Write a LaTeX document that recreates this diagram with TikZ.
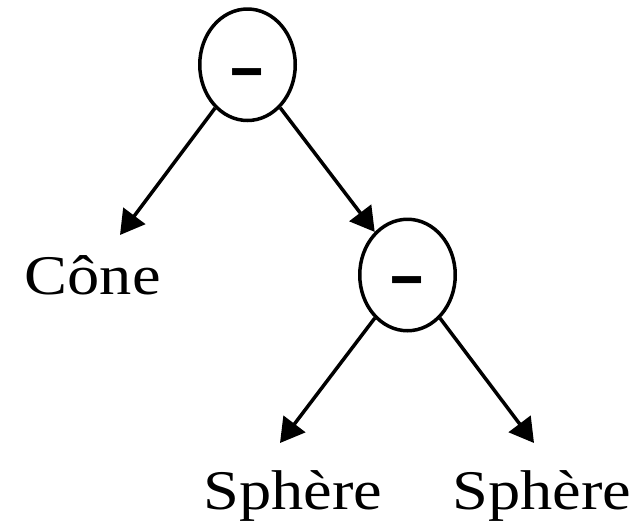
\documentclass[tikz,border=0pt]{standalone}
\usepackage{fontspec}
\setmainfont{Liberation Serif}
\newfontfamily\lblfont[FakeStretch=1.15]{Liberation Serif}
\newfontfamily\opfont[FakeStretch=1.15]{Liberation Serif Bold}
\usetikzlibrary{shapes.geometric,arrows.meta}
\begin{document}
\begin{tikzpicture}[x=1pt,y=-1pt,
  opnode/.style={draw, ellipse, line width=3.5pt, minimum width=95.5pt, minimum height=111.5pt, inner sep=0pt},
  optext/.style={anchor=base, inner sep=0pt, font=\opfont\fontsize{97}{100}\selectfont},
  lbl/.style={anchor=base west, inner sep=0pt, font=\lblfont\fontsize{56}{60}\selectfont},
  arr/.style={line width=3.5pt, -{Triangle[length=24pt,width=27pt]}}]
\useasboundingbox (0,0) rectangle (639,531);
\node[opnode] (e1) at (247.5,64.75) {};
\node[opnode] (e2) at (407.5,275) {};
\node[optext] (m1) at (247.5,91.5) {\scalebox{1}[0.85]{-}};
\node[optext] (m2) at (407.5,299) {\scalebox{1}[0.85]{-}};
\node[lbl] (cone) at (24.5,294) {Cône};
\node[lbl] (s1) at (203.5,509) {Sphère};
\node[lbl] (s2) at (452.5,509) {Sphère};
\coordinate (t1) at (120,235);
\coordinate (t3) at (280,443);
\coordinate (t4) at (534,443);
\draw[arr] (e1) -- (t1);
\draw[arr] (e1) -- (e2);
\draw[arr] (e2) -- (t3);
\draw[arr] (e2) -- (t4);
\end{tikzpicture}
\end{document}
